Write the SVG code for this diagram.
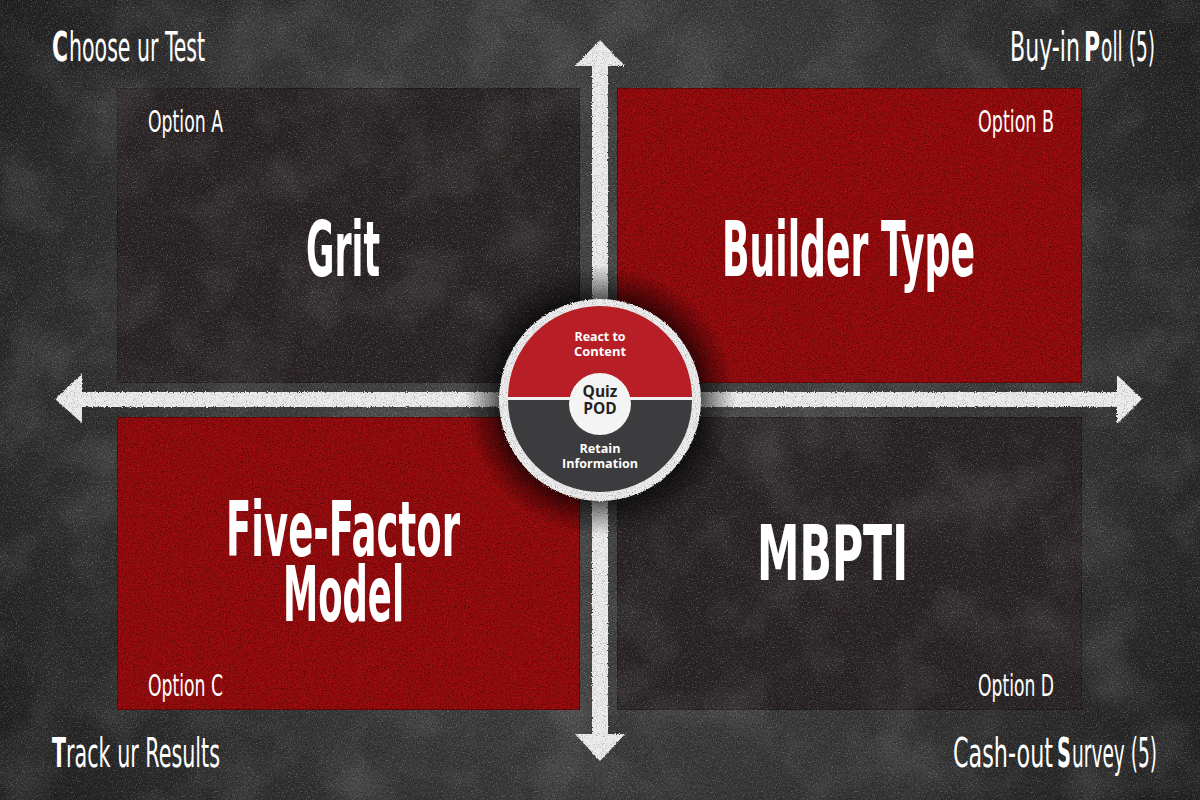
<svg xmlns="http://www.w3.org/2000/svg" width="1200" height="800" viewBox="0 0 1200 800">
  <defs>
    <radialGradient id="board" cx="600" cy="380" r="720" gradientUnits="userSpaceOnUse">
      <stop offset="0" stop-color="#4a4a4a"/>
      <stop offset="0.55" stop-color="#3a3a3a"/>
      <stop offset="1" stop-color="#202020"/>
    </radialGradient>
    <radialGradient id="halo" cx="600" cy="400" r="135" gradientUnits="userSpaceOnUse">
      <stop offset="0.70" stop-color="#000" stop-opacity="0.75"/>
      <stop offset="0.85" stop-color="#000" stop-opacity="0.35"/>
      <stop offset="1" stop-color="#000" stop-opacity="0"/>
    </radialGradient>
    <!-- fine speckle for board and dark panels -->
    <filter id="grain" x="0" y="0" width="100%" height="100%" color-interpolation-filters="sRGB">
      <feTurbulence type="fractalNoise" baseFrequency="0.8" numOctaves="2" seed="4" result="n"/>
      <feColorMatrix in="n" type="matrix" values="0 0 0 0 0  0 0 0 0 0  0 0 0 0 0  -1.2 0 0 0 0.6" result="dk"/>
      <feComposite in="dk" in2="SourceGraphic" operator="in" result="dk2"/>
      <feColorMatrix in="n" type="matrix" values="0 0 0 0 1  0 0 0 0 1  0 0 0 0 1  0 0.8 0 0 -0.44" result="lt"/>
      <feComposite in="lt" in2="SourceGraphic" operator="in" result="lt2"/>
      <feTurbulence type="fractalNoise" baseFrequency="0.015" numOctaves="3" seed="11" result="m"/>
      <feColorMatrix in="m" type="matrix" values="0 0 0 0 1  0 0 0 0 1  0 0 0 0 1  0 0 0.25 0 -0.11" result="mt"/>
      <feComposite in="mt" in2="SourceGraphic" operator="in" result="mt2"/>
      <feMerge><feMergeNode in="SourceGraphic"/><feMergeNode in="mt2"/><feMergeNode in="dk2"/><feMergeNode in="lt2"/></feMerge>
    </filter>
    <!-- coarser red felt texture -->
    <filter id="felt" x="0" y="0" width="100%" height="100%" color-interpolation-filters="sRGB">
      <feTurbulence type="fractalNoise" baseFrequency="0.7" numOctaves="2" seed="7" result="n"/>
      <feColorMatrix in="n" type="matrix" values="0 0 0 0 0.2  0 0 0 0 0  0 0 0 0 0  -2 0 0 0 1.0" result="dk"/>
      <feComposite in="dk" in2="SourceGraphic" operator="in" result="dk2"/>
      <feColorMatrix in="n" type="matrix" values="0 0 0 0 0.9  0 0 0 0 0.1  0 0 0 0 0.1  0 1.6 0 0 -0.82" result="lt"/>
      <feComposite in="lt" in2="SourceGraphic" operator="in" result="lt2"/>
      <feMerge><feMergeNode in="SourceGraphic"/><feMergeNode in="dk2"/><feMergeNode in="lt2"/></feMerge>
    </filter>
    <!-- chalk stroke: rough edges and pitted fill -->
    <filter id="chalk" x="-5%" y="-5%" width="110%" height="110%" color-interpolation-filters="sRGB">
      <feTurbulence type="fractalNoise" baseFrequency="0.9" numOctaves="2" seed="9" result="n"/>
      <feDisplacementMap in="SourceGraphic" in2="n" scale="3" xChannelSelector="R" yChannelSelector="G" result="rough"/>
      <feColorMatrix in="n" type="matrix" values="0 0 0 0 0.45  0 0 0 0 0.45  0 0 0 0 0.45  -1.8 0 0 0 0.85" result="pit"/>
      <feComposite in="pit" in2="rough" operator="in" result="pit2"/>
      <feMerge><feMergeNode in="rough"/><feMergeNode in="pit2"/></feMerge>
    </filter>
    <style>
      .cond { font-family: "Liberation Sans Narrow", "DejaVu Sans Condensed", "Liberation Sans", sans-serif; fill: #ffffff; }
      .corner { font-size: 40px; font-weight: normal; }
      .cb { font-size: 40px; font-weight: bold; }
      .opt { font-size: 31px; }
      .title { font-size: 76px; font-weight: bold; }
      .hub { font-family: "Open Sans", "DejaVu Sans", sans-serif; font-weight: bold; text-anchor: middle; }
      .dark { fill: #2a2425; stroke: #1f1b1c; stroke-width: 2; }
      .red { fill: #8e0b0e; stroke: #5e0708; stroke-width: 2; }
      .chalkfill { fill: #ececec; }
    </style>
  </defs>

  <!-- chalkboard -->
  <g id="background">
    <rect x="0" y="0" width="1200" height="800" fill="url(#board)" filter="url(#grain)"/>
  </g>

  <!-- quadrant panels; condensed lettering via horizontal scale -->
  <g id="option-a">
    <rect class="dark" x="117" y="88" width="463" height="295" filter="url(#grain)"/>
    <text class="cond opt" transform="translate(148,132) scale(0.62,1)" textLength="121" lengthAdjust="spacingAndGlyphs">Option A</text>
    <text class="cond title" transform="translate(306,276) scale(0.52,1)" textLength="142.3" lengthAdjust="spacingAndGlyphs">Grit</text>
  </g>
  <g id="option-b">
    <rect class="red" x="617" y="88" width="465" height="295" filter="url(#felt)"/>
    <text class="cond opt" transform="translate(978,132) scale(0.62,1)" textLength="122.6" lengthAdjust="spacingAndGlyphs">Option B</text>
    <text class="cond title" transform="translate(722,276) scale(0.52,1)" textLength="486.5" lengthAdjust="spacingAndGlyphs">Builder Type</text>
  </g>
  <g id="option-c">
    <rect class="red" x="117" y="417" width="463" height="293" filter="url(#felt)"/>
    <text class="cond opt" transform="translate(148,696) scale(0.62,1)" textLength="121" lengthAdjust="spacingAndGlyphs">Option C</text>
    <text class="cond title" transform="translate(226,556) scale(0.52,1)" textLength="450" lengthAdjust="spacingAndGlyphs">Five-Factor</text>
    <text class="cond title" transform="translate(283,621) scale(0.52,1)" textLength="232.7" lengthAdjust="spacingAndGlyphs">Model</text>
  </g>
  <g id="option-d">
    <rect class="dark" x="617" y="417" width="465" height="293" filter="url(#grain)"/>
    <text class="cond opt" transform="translate(978,696) scale(0.62,1)" textLength="122.6" lengthAdjust="spacingAndGlyphs">Option D</text>
    <text class="cond title" transform="translate(757,580) scale(0.52,1)" textLength="290.4" lengthAdjust="spacingAndGlyphs">MBPTI</text>
  </g>

  <!-- corner captions: bold initial set as its own run -->
  <g id="caption-choose">
    <text class="cond cb" transform="translate(52,61) scale(0.6,1)" textLength="26.7" lengthAdjust="spacingAndGlyphs">C</text>
    <text class="cond corner" transform="translate(69,61) scale(0.56,1)" textLength="242.9" lengthAdjust="spacingAndGlyphs">hoose ur Test</text>
  </g>
  <g id="caption-poll">
    <text class="cond corner" transform="translate(1010,61) scale(0.56,1)" textLength="125" lengthAdjust="spacingAndGlyphs">Buy-in</text>
    <text class="cond cb" transform="translate(1084,61) scale(0.6,1)" textLength="26.7" lengthAdjust="spacingAndGlyphs">P</text>
    <text class="cond corner" transform="translate(1101,61) scale(0.56,1)" textLength="96.4" lengthAdjust="spacingAndGlyphs">oll (5)</text>
  </g>
  <g id="caption-track">
    <text class="cond cb" transform="translate(52,767) scale(0.6,1)" textLength="23.3" lengthAdjust="spacingAndGlyphs">T</text>
    <text class="cond corner" transform="translate(66,767) scale(0.56,1)" textLength="275" lengthAdjust="spacingAndGlyphs">rack ur Results</text>
  </g>
  <g id="caption-survey">
    <text class="cond corner" transform="translate(953,767) scale(0.56,1)" textLength="178.6" lengthAdjust="spacingAndGlyphs">Cash-out</text>
    <text class="cond cb" transform="translate(1057,767) scale(0.6,1)" textLength="23.3" lengthAdjust="spacingAndGlyphs">S</text>
    <text class="cond corner" transform="translate(1072,767) scale(0.56,1)" textLength="151.8" lengthAdjust="spacingAndGlyphs">urvey (5)</text>
  </g>

  <!-- chalk axes -->
  <g id="connectors" filter="url(#chalk)">
    <path class="chalkfill" d="M600,40 L625,66 L608,66 L608,734 L625,734 L600,761 L575,734 L592,734 L592,66 L575,66 Z"/>
    <path class="chalkfill" d="M55,399 L82,374 L82,392 L1117,392 L1117,375 L1142,399 L1117,424 L1117,407 L82,407 L82,423 Z"/>
  </g>

  <!-- hub -->
  <g id="hub">
    <circle cx="600" cy="400" r="135" fill="url(#halo)"/>
    <circle class="chalkfill" cx="600" cy="400" r="101" filter="url(#chalk)"/>
    <path d="M508,398 A92,92 0 0 1 692,398 Z" fill="#b81e25"/>
    <path d="M508,400 A92,92 0 0 0 692,400 Z" fill="#3c3b3d"/>
    <rect x="508" y="397" width="184" height="3" fill="#f2f2f2"/>
    <circle cx="600" cy="404" r="31" fill="#f4f4f4"/>
    <text class="hub" x="600" y="341" font-size="12.5" fill="#ffffff" textLength="51" lengthAdjust="spacingAndGlyphs">React to</text>
    <text class="hub" x="600" y="356" font-size="12.5" fill="#ffffff" textLength="52" lengthAdjust="spacingAndGlyphs">Content</text>
    <text class="hub" x="600" y="397" font-size="15.5" fill="#222222">Quiz</text>
    <text class="hub" x="600" y="414" font-size="15.5" fill="#222222">POD</text>
    <text class="hub" x="600" y="453" font-size="13" fill="#ffffff" textLength="41" lengthAdjust="spacingAndGlyphs">Retain</text>
    <text class="hub" x="600" y="468" font-size="13" fill="#ffffff" textLength="76" lengthAdjust="spacingAndGlyphs">Information</text>
  </g>
</svg>
